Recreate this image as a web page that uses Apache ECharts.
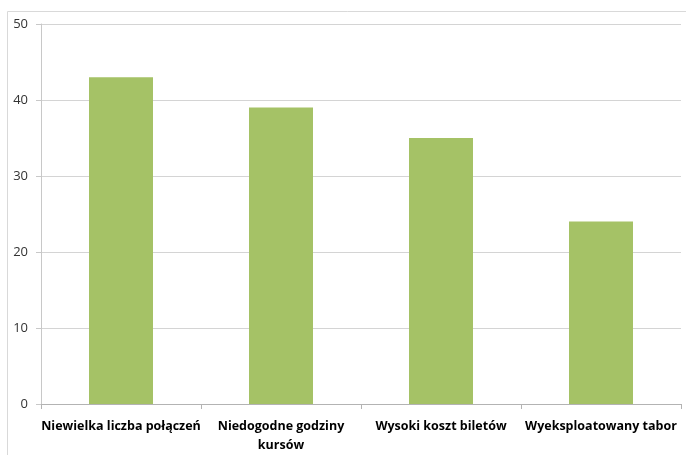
<!DOCTYPE html>
<html><head><meta charset="utf-8">
<script src="https://cdn.jsdelivr.net/npm/echarts@6/dist/echarts.min.js"></script>
<style>html,body{margin:0;padding:0;background:#fff}#c{width:686px;height:455px}</style>
</head><body><div id="c"></div>
<script>
const categories = ['Niewielka liczba połączeń', 'Niedogodne godziny\nkursów', 'Wysoki koszt biletów', 'Wyeksploatowany tabor'];
const values = [43, 39, 35, 24];
const yTicks = [0, 10, 20, 30, 40, 50];

const chart = echarts.init(document.getElementById('c'));
chart.setOption({
  animation: false,
  graphic: [{
    type: 'rect', shape: {x: 7.5, y: 11.5, width: 700, height: 500},
    style: {fill: 'none', stroke: '#d9d9d9', lineWidth: 1}, silent: true, z: 0
  }],
  grid: {left: 41, right: 5, top: 24, bottom: 49},
  xAxis: {
    type: 'category', data: categories,
    axisLine: {lineStyle: {color: '#b3b3b3'}},
    axisTick: {show: true, length: 5, lineStyle: {color: '#b3b3b3'}},
    axisLabel: {color: '#000', fontFamily: 'Open Sans', fontWeight: 'bold', fontSize: 12.5, margin: 13, lineHeight: 19, interval: 0}
  },
  yAxis: {
    type: 'value', min: yTicks[0], max: yTicks[yTicks.length - 1], interval: 10,
    axisLine: {show: true, lineStyle: {color: '#c8c8c8'}},
    axisTick: {show: true, length: 5, lineStyle: {color: '#c8c8c8'}},
    splitLine: {lineStyle: {color: '#d4d4d4'}},
    axisLabel: {color: '#333', fontFamily: 'Open Sans', fontSize: 13, margin: 13}
  },
  series: [{
    type: 'bar', data: values, barWidth: '40%',
    itemStyle: {color: '#A5C266'}
  }]
});
</script></body></html>
